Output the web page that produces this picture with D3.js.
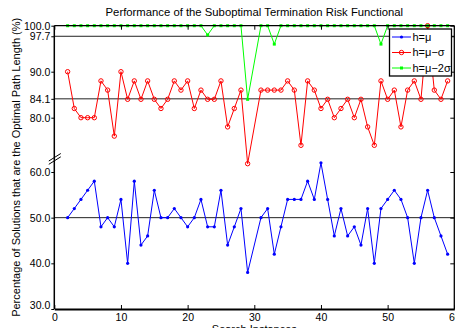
<!DOCTYPE html>
<html>
<head>
<meta charset="utf-8">
<script src="https://cdn.jsdelivr.net/npm/d3@7"></script>
<style>
  body { margin: 0; background: #fff; }
  svg { font-family: "Liberation Sans", Arial, sans-serif; }
</style>
</head>
<body>
<div id="chart"></div>
<script>
// search instances (no run at 30)
var instances = [2,3,4,5,6,7,8,9,10,11,12,13,14,15,16,17,18,19,20,21,22,23,24,25,26,27,28,29,
                 31,32,33,34,35,36,37,38,39,40,41,42,43,44,45,46,47,48,49,50,51,52,53,54,55,56,57,58,59];

var hMu = [50,52,54,56,58,48,50,48,54,40,58,44,46,56,50,50,52,50,48,50,54,48,48,56,44,48,52,38,
           50,52,42,48,54,54,54,58,54,62,54,46,52,46,48,44,52,40,52,54,56,54,50,40,50,56,50,46,42];

var hMuSigma = [90,82,80,80,80,88,86,76,90,84,88,84,88,84,82,84,88,86,88,82,86,84,84,88,78,82,86,70,
                86,86,86,86,88,86,74,88,86,82,84,80,82,84,80,84,78,74,88,84,86,78,86,88,84,100,86,84,88];

var hMu2Sigma = [100,100,100,100,100,100,100,100,100,100,100,100,100,100,100,100,100,100,100,100,100,98,100,100,100,100,100,84,
                 100,100,96,100,100,100,100,100,100,100,100,100,100,100,100,100,100,100,96,100,100,100,100,100,100,100,100,100,100];

var xTicks = [0,10,20,30,40,50,60];
var lowTicks = [30,40,50,60];
var upTicks = [80,84.1,90,97.7,100];
var refLow = [50];
var refUp = [84.1,97.7];
var seriesNames = ["h=\u03bc", "h=\u03bc\u2212\u03c3", "h=\u03bc\u22122\u03c3"];

var W = 455, H = 328;
var pLeft = 54.3, pRight = 454.3, pTop = 25.7, pBottom = 309;

var x = d3.scaleLinear().domain([0, 60]).range([pLeft, pRight]);
// broken y axis: two linear pieces
var yLow = d3.scaleLinear().domain([30, 60]).range([pBottom, 172]);
var yUp = d3.scaleLinear().domain([80, 100]).range([117.7, pTop]);

var svg = d3.select("#chart").append("svg")
    .attr("width", W)
    .attr("height", H);

// reference lines
svg.selectAll(".refl").data(refLow).enter().append("line")
    .attr("x1", pLeft).attr("x2", pRight)
    .attr("y1", function(d) { return yLow(d); })
    .attr("y2", function(d) { return yLow(d); })
    .attr("stroke", "#222").attr("stroke-width", 1);
svg.selectAll(".refu").data(refUp).enter().append("line")
    .attr("x1", pLeft).attr("x2", pRight)
    .attr("y1", function(d) { return yUp(d); })
    .attr("y2", function(d) { return yUp(d); })
    .attr("stroke", "#222").attr("stroke-width", 1);

// series
var series = [
  { name: seriesNames[0], values: hMu, y: yLow, color: "#0000ff", marker: "dot" },
  { name: seriesNames[1], values: hMuSigma, y: yUp, color: "#ff0000", marker: "circle" },
  { name: seriesNames[2], values: hMu2Sigma, y: yUp, color: "#00ff00", marker: "square" }
];

function drawMarker(g, m, color) {
  if (m === "dot") {
    g.append("circle").attr("r", 1.6).attr("fill", color);
  } else if (m === "circle") {
    g.append("circle").attr("r", 2.2).attr("fill", "none")
      .attr("stroke", color).attr("stroke-width", 1);
  } else {
    g.append("rect").attr("x", -1.5).attr("y", -1.5).attr("width", 3).attr("height", 3)
      .attr("fill", color);
  }
}

series.forEach(function(s) {
  var pts = instances.map(function(k, i) { return [x(k), s.y(s.values[i])]; });
  svg.append("path")
    .attr("d", d3.line()(pts))
    .attr("fill", "none")
    .attr("stroke", s.color)
    .attr("stroke-width", 1);
  pts.forEach(function(p) {
    var g = svg.append("g").attr("transform", "translate(" + p[0] + "," + p[1] + ")");
    drawMarker(g, s.marker, s.color);
  });
});

// frame: top and right
svg.append("line").attr("x1", pLeft).attr("x2", pRight).attr("y1", pTop).attr("y2", pTop)
    .attr("stroke", "#000").attr("stroke-width", 1.3);
svg.append("line").attr("x1", pRight).attr("x2", pRight).attr("y1", pTop).attr("y2", pBottom)
    .attr("stroke", "#000").attr("stroke-width", 1.3);

// bottom axis
var xAxis = svg.append("g")
    .attr("transform", "translate(0," + pBottom + ")")
    .call(d3.axisBottom(x).tickValues(xTicks).tickSize(-4).tickSizeOuter(0).tickPadding(5));
xAxis.select(".domain").attr("stroke-width", 2);
xAxis.selectAll("text").style("font-size", "10.5px").attr("fill", "#000");

// top ticks
svg.append("g")
    .attr("transform", "translate(0," + pTop + ")")
    .call(d3.axisTop(x).tickValues(xTicks).tickSize(-4).tickSizeOuter(0).tickFormat(""))
    .select(".domain").remove();

// left axes
var fmt = d3.format(".1f");
var yl = svg.append("g").attr("transform", "translate(" + pLeft + ",0)")
    .call(d3.axisLeft(yLow).tickValues(lowTicks).tickSize(3).tickPadding(1).tickFormat(fmt));
var yu = svg.append("g").attr("transform", "translate(" + pLeft + ",0)")
    .call(d3.axisLeft(yUp).tickValues(upTicks).tickSize(3).tickPadding(1).tickFormat(fmt));
[yl, yu].forEach(function(a) {
  a.select(".domain").remove();
  a.selectAll("text").style("font-size", "10.5px").attr("fill", "#000");
});
yl.selectAll(".tick").filter(function(d) { return d === 30; }).select("text").attr("dy", "-0.05em");

// right ticks
svg.append("g").attr("transform", "translate(" + pRight + ",0)")
    .call(d3.axisRight(yLow).tickValues(lowTicks).tickSize(-4).tickFormat(""))
    .select(".domain").remove();
svg.append("g").attr("transform", "translate(" + pRight + ",0)")
    .call(d3.axisRight(yUp).tickValues(upTicks).tickSize(-4).tickFormat(""))
    .select(".domain").remove();

svg.append("line").attr("x1", pLeft).attr("x2", pLeft).attr("y1", pTop).attr("y2", pBottom)
    .attr("stroke", "#000").attr("stroke-width", 1.5);

// axis break marks
[0, 3.3].forEach(function(o) {
  svg.append("line")
    .attr("x1", pLeft - 5.5).attr("y1", 161 + o)
    .attr("x2", pLeft + 6.5).attr("y2", 153.5 + o)
    .attr("stroke", "#000").attr("stroke-width", 1);
});

// titles
svg.append("text")
    .attr("x", (pLeft + pRight) / 2).attr("y", 16)
    .attr("text-anchor", "middle")
    .style("font-size", "11.3px")
    .text("Performance of the Suboptimal Termination Risk Functional");

svg.append("text")
    .attr("transform", "translate(20," + ((pTop + pBottom) / 2) + ") rotate(-90)")
    .attr("text-anchor", "middle")
    .style("font-size", "11px")
    .text("Percentage of Solutions that are the Optimal Path Length (%)");

svg.append("text")
    .attr("x", (pLeft + pRight) / 2).attr("y", 333)
    .attr("text-anchor", "middle")
    .style("font-size", "11px")
    .text("Search Instances");

// legend
var lg = svg.append("g");
lg.append("rect")
    .attr("x", 389.5).attr("y", 29).attr("width", 62).attr("height", 47)
    .attr("fill", "#fff").attr("stroke", "#000").attr("stroke-width", 1.3);
series.forEach(function(s, i) {
  var yy = 37 + i * 15.5;
  lg.append("line").attr("x1", 392).attr("x2", 411).attr("y1", yy).attr("y2", yy)
    .attr("stroke", s.color).attr("stroke-width", 1);
  var g = lg.append("g").attr("transform", "translate(401.5," + yy + ")");
  drawMarker(g, s.marker, s.color);
  lg.append("text").attr("x", 412.5).attr("y", yy).attr("dy", "0.35em")
    .style("font-size", "11px")
    .text(s.name);
});
</script>
</body>
</html>
